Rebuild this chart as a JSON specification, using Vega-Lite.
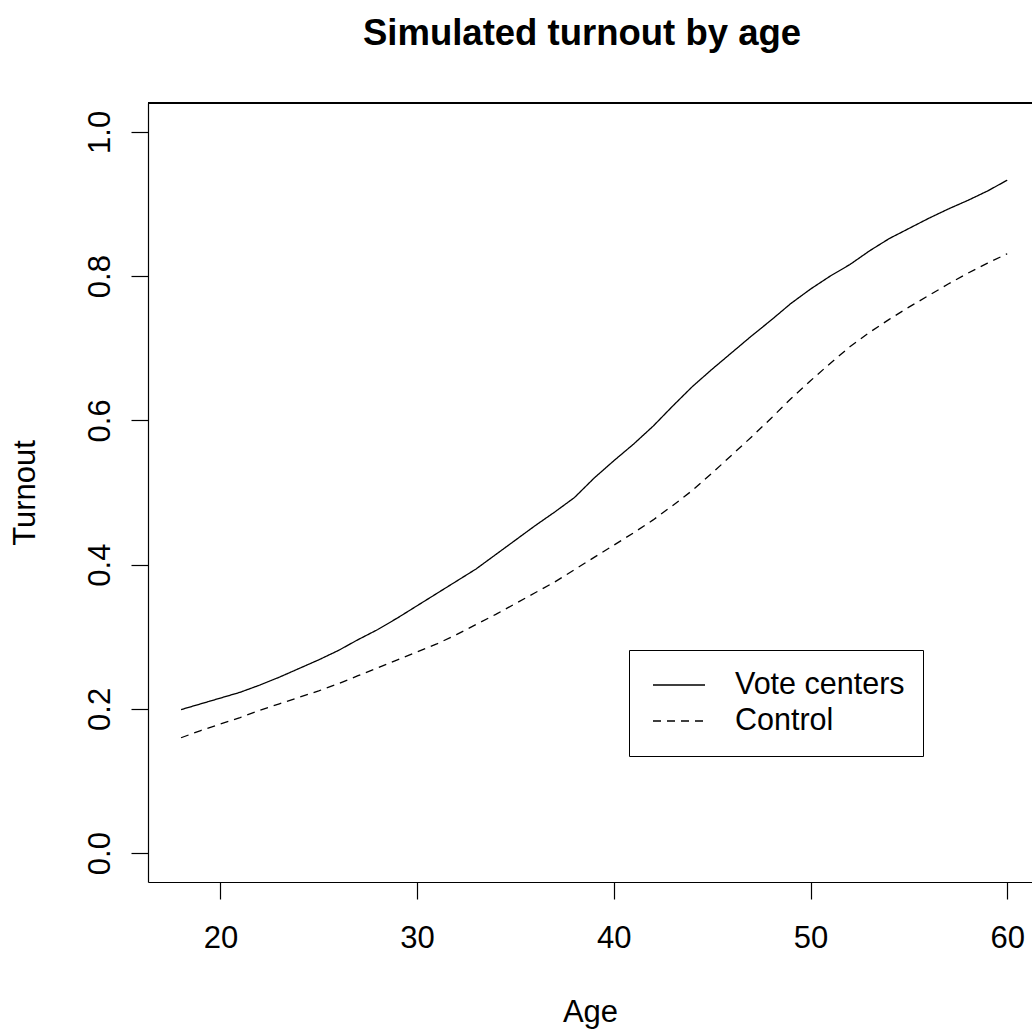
{
  "$schema": "https://vega.github.io/schema/vega-lite/v6.json",
  "width": 884,
  "height": 779,
  "autosize": {"type": "none"},
  "padding": {"left": 148, "top": 103, "right": 0, "bottom": 152},
  "background": "white",
  "config": {
    "font": "Liberation Sans",
    "view": {"stroke": null},
    "axis": {"grid": false, "domainColor": "black", "domainWidth": 1.2, "tickColor": "black", "tickWidth": 1.2, "tickSize": 17, "labelColor": "black", "titleColor": "black", "labelFontSize": 31, "titleFontSize": 31, "titleFontWeight": "normal", "labelFont": "Liberation Sans", "titleFont": "Liberation Sans"}
  },
  "title": {"text": "Simulated turnout by age", "fontSize": 36.5, "fontWeight": "bold", "font": "Liberation Sans", "color": "black", "anchor": "middle", "frame": "group", "baseline": "alphabetic", "offset": 21, "dx": -8},
  "data": {"values": [
    {"age":18,"turnout":0.199,"group":"Vote centers"},{"age":19,"turnout":0.207,"group":"Vote centers"},{"age":20,"turnout":0.215,"group":"Vote centers"},{"age":21,"turnout":0.223,"group":"Vote centers"},{"age":22,"turnout":0.233,"group":"Vote centers"},{"age":23,"turnout":0.244,"group":"Vote centers"},{"age":24,"turnout":0.256,"group":"Vote centers"},{"age":25,"turnout":0.268,"group":"Vote centers"},{"age":26,"turnout":0.281,"group":"Vote centers"},{"age":27,"turnout":0.296,"group":"Vote centers"},{"age":28,"turnout":0.310,"group":"Vote centers"},{"age":29,"turnout":0.326,"group":"Vote centers"},{"age":30,"turnout":0.343,"group":"Vote centers"},{"age":31,"turnout":0.360,"group":"Vote centers"},{"age":32,"turnout":0.377,"group":"Vote centers"},{"age":33,"turnout":0.394,"group":"Vote centers"},{"age":34,"turnout":0.414,"group":"Vote centers"},{"age":35,"turnout":0.434,"group":"Vote centers"},{"age":36,"turnout":0.454,"group":"Vote centers"},{"age":37,"turnout":0.473,"group":"Vote centers"},{"age":38,"turnout":0.493,"group":"Vote centers"},{"age":39,"turnout":0.520,"group":"Vote centers"},{"age":40,"turnout":0.544,"group":"Vote centers"},{"age":41,"turnout":0.567,"group":"Vote centers"},{"age":42,"turnout":0.592,"group":"Vote centers"},{"age":43,"turnout":0.620,"group":"Vote centers"},{"age":44,"turnout":0.647,"group":"Vote centers"},{"age":45,"turnout":0.671,"group":"Vote centers"},{"age":46,"turnout":0.694,"group":"Vote centers"},{"age":47,"turnout":0.717,"group":"Vote centers"},{"age":48,"turnout":0.739,"group":"Vote centers"},{"age":49,"turnout":0.762,"group":"Vote centers"},{"age":50,"turnout":0.782,"group":"Vote centers"},{"age":51,"turnout":0.800,"group":"Vote centers"},{"age":52,"turnout":0.816,"group":"Vote centers"},{"age":53,"turnout":0.835,"group":"Vote centers"},{"age":54,"turnout":0.852,"group":"Vote centers"},{"age":55,"turnout":0.866,"group":"Vote centers"},{"age":56,"turnout":0.880,"group":"Vote centers"},{"age":57,"turnout":0.893,"group":"Vote centers"},{"age":58,"turnout":0.905,"group":"Vote centers"},{"age":59,"turnout":0.918,"group":"Vote centers"},{"age":60,"turnout":0.933,"group":"Vote centers"},
    {"age":18,"turnout":0.160,"group":"Control"},{"age":19,"turnout":0.170,"group":"Control"},{"age":20,"turnout":0.179,"group":"Control"},{"age":21,"turnout":0.188,"group":"Control"},{"age":22,"turnout":0.198,"group":"Control"},{"age":23,"turnout":0.207,"group":"Control"},{"age":24,"turnout":0.216,"group":"Control"},{"age":25,"turnout":0.225,"group":"Control"},{"age":26,"turnout":0.235,"group":"Control"},{"age":27,"turnout":0.246,"group":"Control"},{"age":28,"turnout":0.257,"group":"Control"},{"age":29,"turnout":0.268,"group":"Control"},{"age":30,"turnout":0.279,"group":"Control"},{"age":31,"turnout":0.290,"group":"Control"},{"age":32,"turnout":0.303,"group":"Control"},{"age":33,"turnout":0.317,"group":"Control"},{"age":34,"turnout":0.331,"group":"Control"},{"age":35,"turnout":0.346,"group":"Control"},{"age":36,"turnout":0.361,"group":"Control"},{"age":37,"turnout":0.376,"group":"Control"},{"age":38,"turnout":0.393,"group":"Control"},{"age":39,"turnout":0.410,"group":"Control"},{"age":40,"turnout":0.427,"group":"Control"},{"age":41,"turnout":0.444,"group":"Control"},{"age":42,"turnout":0.462,"group":"Control"},{"age":43,"turnout":0.482,"group":"Control"},{"age":44,"turnout":0.503,"group":"Control"},{"age":45,"turnout":0.527,"group":"Control"},{"age":46,"turnout":0.552,"group":"Control"},{"age":47,"turnout":0.577,"group":"Control"},{"age":48,"turnout":0.603,"group":"Control"},{"age":49,"turnout":0.630,"group":"Control"},{"age":50,"turnout":0.655,"group":"Control"},{"age":51,"turnout":0.679,"group":"Control"},{"age":52,"turnout":0.702,"group":"Control"},{"age":53,"turnout":0.722,"group":"Control"},{"age":54,"turnout":0.740,"group":"Control"},{"age":55,"turnout":0.757,"group":"Control"},{"age":56,"turnout":0.773,"group":"Control"},{"age":57,"turnout":0.789,"group":"Control"},{"age":58,"turnout":0.804,"group":"Control"},{"age":59,"turnout":0.818,"group":"Control"},{"age":60,"turnout":0.831,"group":"Control"}
  ]},
  "layer": [
    {
      "mark": {"type": "line", "color": "black", "strokeWidth": 1.3, "clip": true},
      "encoding": {
        "x": {"field": "age", "type": "quantitative", "scale": {"domain": [16.32, 61.26], "nice": false, "zero": false},
              "axis": {"title": "Age", "values": [20, 30, 40, 50, 60], "labelPadding": 24, "titlePadding": 44, "labelFlush": false}},
        "y": {"field": "turnout", "type": "quantitative", "scale": {"domain": [-0.04, 1.04], "nice": false, "zero": false},
              "axis": {"title": "Turnout", "values": [0, 0.2, 0.4, 0.6, 0.8, 1.0], "format": ".1f", "labelAngle": -90, "labelAlign": "center", "labelBaseline": "bottom", "labelPadding": 15, "titlePadding": 43, "labelFlush": false}},
        "strokeDash": {"field": "group", "type": "nominal",
          "scale": {"domain": ["Vote centers", "Control"], "range": [[1, 0], [8, 6]]},
          "legend": {"title": null, "orient": "none", "legendX": 481, "legendY": 547, "symbolType": "stroke", "symbolSize": 2704, "symbolStrokeWidth": 1.3, "symbolStrokeColor": "black", "labelFontSize": 30.5, "labelColor": "black", "labelFont": "Liberation Sans", "labelOffset": 29, "padding": 18, "symbolOffset": 5, "clipHeight": 34, "rowPadding": 2, "strokeColor": "black", "fillColor": "white", "cornerRadius": 0, "labelLimit": 400}}
      }
    },
    {
      "mark": {"type": "rule", "color": "black", "strokeWidth": 1.2},
      "encoding": {
        "y": {"datum": 1.04}
      }
    }
  ]
}
